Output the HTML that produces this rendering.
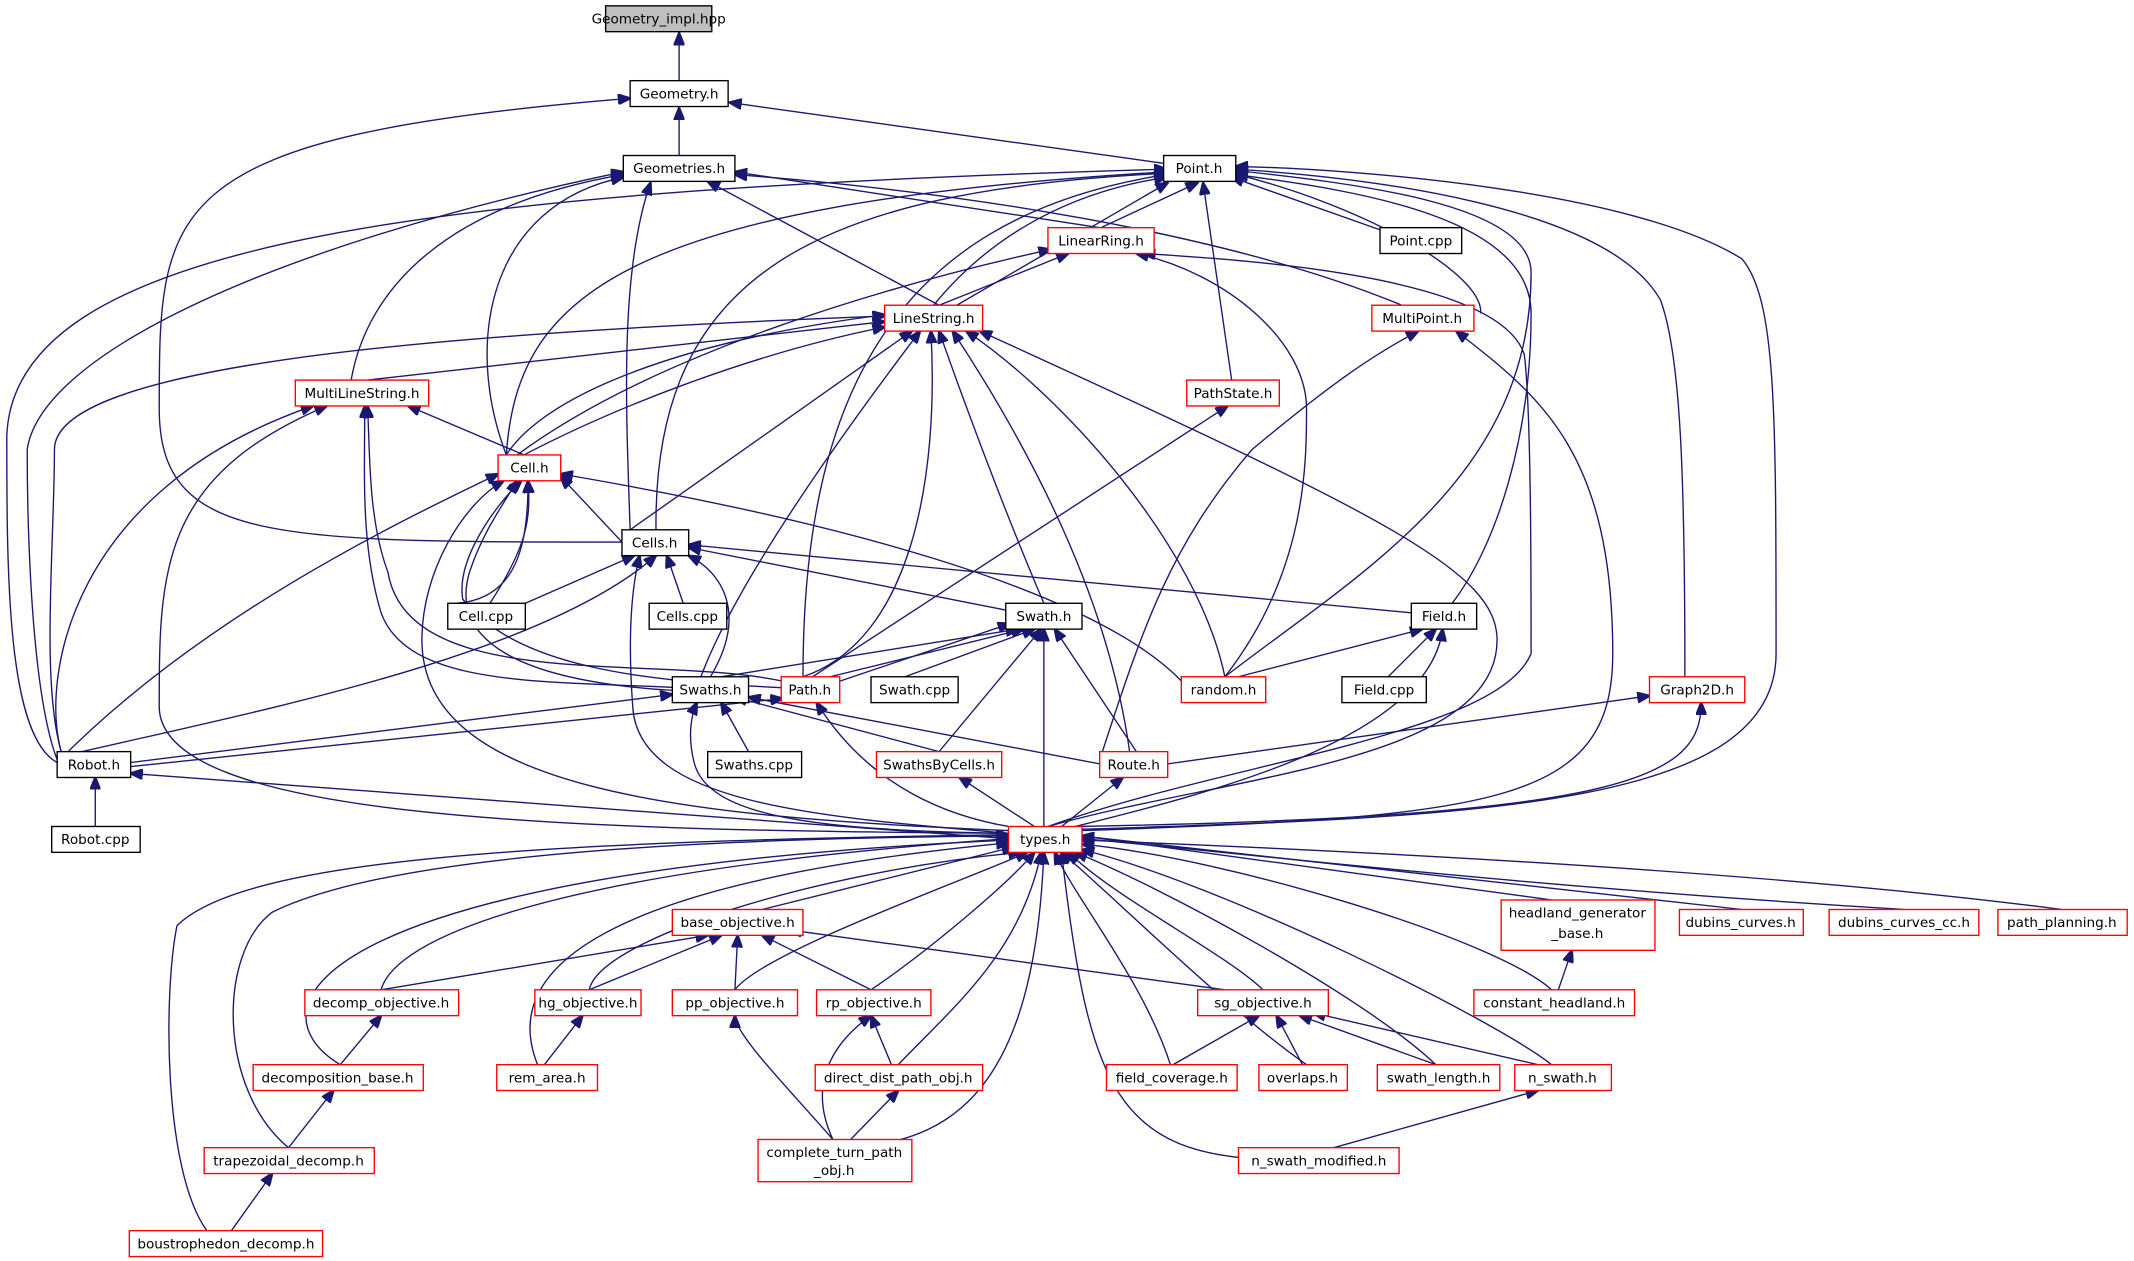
<!DOCTYPE html>
<html><head><meta charset="utf-8"><style>
html,body{margin:0;padding:0;background:#fff;width:2134px;height:1261px;overflow:hidden}
svg{display:block}
text{font-family:"DejaVu Sans","Liberation Sans",sans-serif;font-size:10px;fill:#000;text-anchor:middle}
.n rect{fill:#fff;stroke:#000;stroke-width:1}
.r rect{fill:#fff;stroke:#f00;stroke-width:1}
path{fill:none;stroke:#191970;stroke-width:1;marker-end:url(#a)}
</style></head><body>
<svg width="2134" height="1261" viewBox="0 0 1568 926" xmlns="http://www.w3.org/2000/svg">
<defs><marker id="a" markerWidth="10" markerHeight="8" refX="9" refY="4" orient="auto" markerUnits="userSpaceOnUse"><polygon points="0,0 10,4 0,8" fill="#191970" stroke="#191970"/></marker></defs>
<g>
<path d="M499,59 L499,24"/>
<path d="M499,114 L499,79"/>
<path d="M857,120 L536,75"/>
<path d="M457,398 C200,398 117,398 117,300 C117,150 117,100 463,72"/>
<path d="M809,167 L880,134"/>
<path d="M1018,170 L905,130"/>
<path d="M703,224 L858,134"/>
<path d="M686,224 C730,170 790,140 857,130"/>
<path d="M1088,230 C1090,200 1000,150 905,127"/>
<path d="M905,279 L884,134"/>
<path d="M372,334 C380,220 450,150 857,126"/>
<path d="M482,389 C480,200 600,140 857,127"/>
<path d="M590,497 C590,300 650,160 857,128"/>
<path d="M42,560 C5,540 5,420 5,320 C10,180 300,140 857,124"/>
<path d="M1067,443 C1100,400 1125,320 1125,230 C1125,160 1000,140 908,128"/>
<path d="M900,497 C1000,420 1125,350 1125,200 C1125,150 1000,135 908,125"/>
<path d="M1238,497 C1238,350 1235,260 1220,220 C1180,150 1000,130 908,124"/>
<path d="M795,609 C1100,600 1305,590 1305,480 C1305,300 1305,220 1280,190 C1200,140 1000,124 908,122"/>
<path d="M808,167 L540,126"/>
<path d="M690,224 L520,133"/>
<path d="M258,279 C270,210 330,150 458,128"/>
<path d="M372,334 C340,250 360,150 458,130"/>
<path d="M463,389 C460,300 455,200 478,134"/>
<path d="M1030,224 C900,170 700,140 540,128"/>
<path d="M42,558 C20,500 20,350 20,330 C30,260 200,180 458,126"/>
<path d="M690,224 L785,186"/>
<path d="M380,334 C480,260 650,210 772,183"/>
<path d="M900,497 C960,420 960,340 960,300 C960,250 900,200 835,186"/>
<path d="M770,607 C900,560 1100,540 1125,480 C1125,420 1125,300 1120,260 C1100,200 900,190 840,186"/>
<path d="M270,279 L650,236"/>
<path d="M385,334 C450,300 550,260 650,240"/>
<path d="M372,334 C400,290 500,250 650,231"/>
<path d="M463,389 L670,243"/>
<path d="M515,497 C540,430 610,330 676,243"/>
<path d="M590,497 C670,470 690,350 684,243"/>
<path d="M767,443 C740,380 710,300 690,243"/>
<path d="M830,552 C820,480 790,380 700,243"/>
<path d="M900,497 C880,400 780,290 710,243"/>
<path d="M770,607 C900,570 1100,560 1100,470 C1100,420 1020,380 720,243"/>
<path d="M45,552 C30,500 40,400 40,330 C40,270 300,245 650,232"/>
<path d="M810,552 C840,460 860,400 920,330 C980,280 1010,260 1042,243"/>
<path d="M795,610 C1100,600 1185,590 1185,480 C1185,330 1130,290 1070,243"/>
<path d="M385,334 L300,298"/>
<path d="M45,552 C30,500 50,360 230,298"/>
<path d="M741,612 C400,610 120,600 117,520 C117,420 117,350 240,298"/>
<path d="M500,505 C400,500 300,505 280,450 C265,400 268,350 268,298"/>
<path d="M574,500 C480,480 300,510 285,420 C270,380 272,330 270,298"/>
<path d="M597,497 L902,298"/>
<path d="M457,398 L412,350"/>
<path d="M335,443 C380,440 388,400 388,353"/>
<path d="M360,443 C388,400 390,380 388,353"/>
<path d="M42,560 C150,450 300,380 366,348"/>
<path d="M741,610 C500,600 310,580 310,470 C310,420 340,370 370,353"/>
<path d="M868,500 C800,430 600,380 412,348"/>
<path d="M494,507 C380,500 330,470 345,420 C355,390 370,370 380,353"/>
<path d="M574,505 C470,500 380,490 340,440 C335,410 365,370 383,353"/>
<path d="M386,443 L466,408"/>
<path d="M502,443 L490,408"/>
<path d="M739,448 L506,402"/>
<path d="M1037,450 L506,400"/>
<path d="M522,497 C550,450 530,420 506,408"/>
<path d="M60,552 C200,520 400,480 482,408"/>
<path d="M741,612 C600,600 470,590 465,520 C462,480 462,440 470,408"/>
<path d="M530,497 L748,462"/>
<path d="M610,497 L752,462"/>
<path d="M600,506 L742,458"/>
<path d="M665,497 L760,462"/>
<path d="M690,552 L765,462"/>
<path d="M835,552 L775,462"/>
<path d="M767,607 L767,462"/>
<path d="M1020,497 L1055,462"/>
<path d="M910,497 L1045,462"/>
<path d="M790,607 C900,580 1050,540 1060,462"/>
<path d="M550,552 L530,516"/>
<path d="M690,552 L540,512"/>
<path d="M96,560 L494,510"/>
<path d="M741,612 C600,610 520,600 510,560 C505,540 508,525 512,516"/>
<path d="M808,561 L550,512"/>
<path d="M96,563 L575,513"/>
<path d="M741,607 C700,600 640,580 600,516"/>
<path d="M858,561 L1212,511"/>
<path d="M790,607 C1200,600 1250,570 1250,516"/>
<path d="M70,607 L70,571"/>
<path d="M741,616 L96,568"/>
<path d="M760,607 L705,571"/>
<path d="M780,607 L825,571"/>
<path d="M1140,661 L795,614"/>
<path d="M1280,668 L795,614"/>
<path d="M1400,668 C1100,650 900,625 795,616"/>
<path d="M1515,668 C1300,640 1000,625 795,617"/>
<path d="M560,668 L745,622"/>
<path d="M280,727 C290,690 400,640 741,616"/>
<path d="M433,727 C440,690 600,640 750,626"/>
<path d="M540,727 C560,700 700,650 755,626"/>
<path d="M640,727 C680,700 740,650 760,626"/>
<path d="M928,727 C900,700 820,660 785,626"/>
<path d="M1140,727 C1100,690 900,630 795,620"/>
<path d="M250,782 C180,740 230,640 741,617"/>
<path d="M395,782 C370,720 420,650 741,619"/>
<path d="M660,782 C700,740 750,700 765,626"/>
<path d="M860,782 C840,720 790,660 775,626"/>
<path d="M960,782 C900,740 820,660 780,626"/>
<path d="M1055,782 C1000,730 850,650 790,626"/>
<path d="M1140,782 C1100,750 900,650 795,624"/>
<path d="M212,843 C160,800 160,700 200,670 C300,620 600,615 741,614"/>
<path d="M620,843 C700,840 760,800 767,626"/>
<path d="M940,852 C820,850 800,800 780,626"/>
<path d="M152,904 C120,860 120,730 130,680 C180,630 400,618 741,613"/>
<path d="M280,727 L520,687"/>
<path d="M433,727 L530,687"/>
<path d="M540,727 L542,687"/>
<path d="M640,727 L560,687"/>
<path d="M900,727 L580,683"/>
<path d="M1145,727 L1155,698"/>
<path d="M250,782 L280,746"/>
<path d="M400,782 L428,746"/>
<path d="M612,837 C580,800 540,760 540,746"/>
<path d="M612,837 C590,790 620,760 640,746"/>
<path d="M655,782 L640,746"/>
<path d="M862,782 L925,746"/>
<path d="M957,782 L938,746"/>
<path d="M1055,782 L955,746"/>
<path d="M1130,782 L965,744"/>
<path d="M212,843 L245,801"/>
<path d="M625,837 L660,801"/>
<path d="M170,904 L200,862"/>
<path d="M980,843 L1130,801"/>
</g>
<g class="n"><rect x="445" y="4" width="78" height="19" style="fill:#bfbfbf"/><text x="484" y="17">Geometry_impl.hpp</text></g>
<g class="n"><rect x="463" y="59" width="72" height="19"/><text x="499" y="72">Geometry.h</text></g>
<g class="n"><rect x="458" y="114" width="82" height="19"/><text x="499" y="127">Geometries.h</text></g>
<g class="n"><rect x="855" y="114" width="53" height="19"/><text x="881" y="127">Point.h</text></g>
<g class="r"><rect x="770" y="167" width="78" height="19"/><text x="809" y="180">LinearRing.h</text></g>
<g class="n"><rect x="1014" y="167" width="60" height="19"/><text x="1044" y="180">Point.cpp</text></g>
<g class="r"><rect x="650" y="224" width="72" height="19"/><text x="686" y="237">LineString.h</text></g>
<g class="r"><rect x="1008" y="224" width="75" height="19"/><text x="1045" y="237">MultiPoint.h</text></g>
<g class="r"><rect x="217" y="279" width="98" height="19"/><text x="266" y="292">MultiLineString.h</text></g>
<g class="r"><rect x="872" y="279" width="68" height="19"/><text x="906" y="292">PathState.h</text></g>
<g class="r"><rect x="366" y="334" width="46" height="19"/><text x="389" y="347">Cell.h</text></g>
<g class="n"><rect x="457" y="389" width="49" height="19"/><text x="481" y="402">Cells.h</text></g>
<g class="n"><rect x="329" y="443" width="57" height="19"/><text x="357" y="456">Cell.cpp</text></g>
<g class="n"><rect x="477" y="443" width="57" height="19"/><text x="505" y="456">Cells.cpp</text></g>
<g class="n"><rect x="739" y="443" width="56" height="19"/><text x="767" y="456">Swath.h</text></g>
<g class="n"><rect x="1037" y="443" width="48" height="19"/><text x="1061" y="456">Field.h</text></g>
<g class="n"><rect x="986" y="497" width="62" height="19"/><text x="1017" y="510">Field.cpp</text></g>
<g class="r"><rect x="868" y="497" width="62" height="19"/><text x="899" y="510">random.h</text></g>
<g class="n"><rect x="494" y="497" width="56" height="19"/><text x="522" y="510">Swaths.h</text></g>
<g class="r"><rect x="574" y="497" width="43" height="19"/><text x="595" y="510">Path.h</text></g>
<g class="n"><rect x="640" y="497" width="64" height="19"/><text x="672" y="510">Swath.cpp</text></g>
<g class="r"><rect x="1212" y="497" width="70" height="19"/><text x="1247" y="510">Graph2D.h</text></g>
<g class="n"><rect x="42" y="552" width="54" height="19"/><text x="69" y="565">Robot.h</text></g>
<g class="r"><rect x="644" y="552" width="92" height="19"/><text x="690" y="565">SwathsByCells.h</text></g>
<g class="n"><rect x="520" y="552" width="69" height="19"/><text x="554" y="565">Swaths.cpp</text></g>
<g class="r"><rect x="808" y="552" width="50" height="19"/><text x="833" y="565">Route.h</text></g>
<g class="n"><rect x="38" y="607" width="65" height="19"/><text x="70" y="620">Robot.cpp</text></g>
<g class="r"><rect x="741" y="607" width="54" height="19"/><text x="768" y="620">types.h</text></g>
<g class="r"><rect x="1103" y="661" width="113" height="37"/><text x="1159" y="674">headland_generator</text><text x="1159" y="689">_base.h</text></g>
<g class="r"><rect x="1234" y="668" width="91" height="19"/><text x="1279" y="681">dubins_curves.h</text></g>
<g class="r"><rect x="1344" y="668" width="110" height="19"/><text x="1399" y="681">dubins_curves_cc.h</text></g>
<g class="r"><rect x="1468" y="668" width="95" height="19"/><text x="1515" y="681">path_planning.h</text></g>
<g class="r"><rect x="494" y="668" width="96" height="19"/><text x="542" y="681">base_objective.h</text></g>
<g class="r"><rect x="224" y="727" width="113" height="19"/><text x="280" y="740">decomp_objective.h</text></g>
<g class="r"><rect x="393" y="727" width="78" height="19"/><text x="432" y="740">hg_objective.h</text></g>
<g class="r"><rect x="494" y="727" width="92" height="19"/><text x="540" y="740">pp_objective.h</text></g>
<g class="r"><rect x="600" y="727" width="84" height="19"/><text x="642" y="740">rp_objective.h</text></g>
<g class="r"><rect x="880" y="727" width="96" height="19"/><text x="928" y="740">sg_objective.h</text></g>
<g class="r"><rect x="1083" y="727" width="118" height="19"/><text x="1142" y="740">constant_headland.h</text></g>
<g class="r"><rect x="186" y="782" width="125" height="19"/><text x="248" y="795">decomposition_base.h</text></g>
<g class="r"><rect x="365" y="782" width="74" height="19"/><text x="402" y="795">rem_area.h</text></g>
<g class="r"><rect x="599" y="782" width="123" height="19"/><text x="660" y="795">direct_dist_path_obj.h</text></g>
<g class="r"><rect x="813" y="782" width="96" height="19"/><text x="861" y="795">field_coverage.h</text></g>
<g class="r"><rect x="925" y="782" width="65" height="19"/><text x="957" y="795">overlaps.h</text></g>
<g class="r"><rect x="1012" y="782" width="90" height="19"/><text x="1057" y="795">swath_length.h</text></g>
<g class="r"><rect x="1113" y="782" width="71" height="19"/><text x="1148" y="795">n_swath.h</text></g>
<g class="r"><rect x="150" y="843" width="125" height="19"/><text x="212" y="856">trapezoidal_decomp.h</text></g>
<g class="r"><rect x="557" y="837" width="113" height="31"/><text x="613" y="850">complete_turn_path</text><text x="613" y="863">_obj.h</text></g>
<g class="r"><rect x="910" y="843" width="118" height="19"/><text x="969" y="856">n_swath_modified.h</text></g>
<g class="r"><rect x="95" y="904" width="142" height="19"/><text x="166" y="917">boustrophedon_decomp.h</text></g>
</svg>
</body></html>
